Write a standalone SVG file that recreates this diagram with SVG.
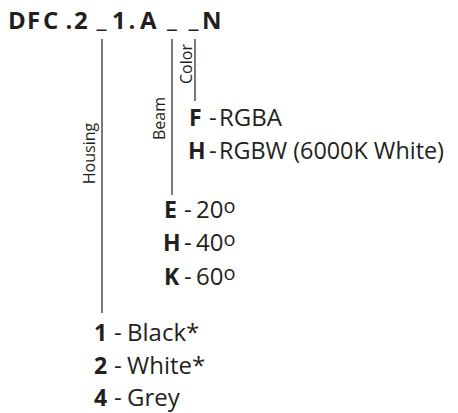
<svg xmlns="http://www.w3.org/2000/svg" width="458" height="413" viewBox="0 0 458 413">
<style>
text{font-family:"Open Sans","Noto Sans",sans-serif;fill:#231f20}
.t{font-size:24px;font-weight:bold}
.k{font-size:23px;font-weight:bold}
.v{font-size:24px}
.d{font-size:20px}
.l{font-size:16px}
line{stroke:#231f20;stroke-width:1.2}
</style>
<rect width="458" height="413" fill="#fff"/>
<g id="title"><text class="t" x="8 27 43 65.5 74 96.5 112 128.5 140 167 188.5 202" y="29 29 29 29 29 27 29 29 29 27 27 29">DFC.2_1.A__N</text></g>
<g id="connectors">
<line x1="102" y1="39" x2="102" y2="313"/>
<line x1="172" y1="39" x2="172" y2="195"/>
<line x1="195" y1="39" x2="195" y2="101"/>
</g>
<g id="housing"><text class="l" transform="translate(95,153.5) rotate(-90)" text-anchor="middle">Housing</text></g>
<g id="beam"><text class="l" transform="translate(165,118.5) rotate(-90)" text-anchor="middle">Beam</text></g>
<g id="color"><text class="l" transform="translate(192,64) rotate(-90)" text-anchor="middle">Color</text></g>
<g id="color-options">
<text class="k" x="189" y="126">F</text><text class="v" x="209" y="126">-</text><text class="v" x="219" y="126">RGBA</text>
<text class="k" x="188" y="159">H</text><text class="v" x="209" y="159">-</text><text class="v" x="219" y="159" textLength="225" lengthAdjust="spacingAndGlyphs">RGBW (6000K White)</text>
</g>
<g id="beam-options">
<text class="k" x="164" y="218">E</text><text class="v" x="184" y="218">-</text><text class="v" x="196" y="218">20<tspan class="d" dy="-5">o</tspan></text>
<text class="k" x="163" y="251">H</text><text class="v" x="184" y="251">-</text><text class="v" x="196" y="251">40<tspan class="d" dy="-5">o</tspan></text>
<text class="k" x="164" y="285">K</text><text class="v" x="184" y="285">-</text><text class="v" x="196" y="285">60<tspan class="d" dy="-5">o</tspan></text>
</g>
<g id="housing-options">
<text class="k" x="94" y="341">1</text><text class="v" x="114" y="341">-</text><text class="v" x="127" y="341">Black*</text>
<text class="k" x="94" y="374">2</text><text class="v" x="114" y="374">-</text><text class="v" x="127" y="374">White*</text>
<text class="k" x="94" y="406">4</text><text class="v" x="114" y="406">-</text><text class="v" x="127" y="406">Grey</text>
</g>
</svg>
